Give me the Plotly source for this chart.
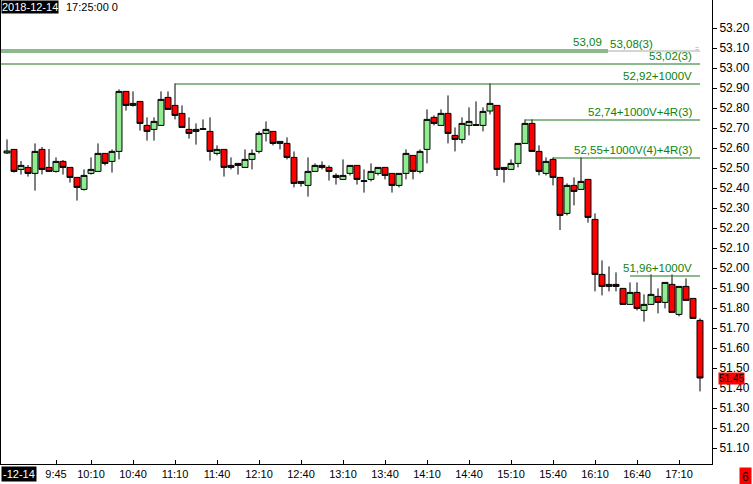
import plotly.graph_objects as go

# ---------------- data ----------------
bar_index = list(range(100))  # 5-minute bars, 09:10 ... 17:25

opens = [52.575, 52.593, 52.493, 52.503, 52.473, 52.593, 52.503, 52.483, 52.533, 52.503,
         52.453, 52.393, 52.473, 52.483, 52.573, 52.533, 52.583, 52.883, 52.813, 52.833,
         52.713, 52.693, 52.713, 52.853, 52.813, 52.773, 52.693, 52.683, 52.693, 52.683,
         52.573, 52.593, 52.503, 52.523, 52.503, 52.543, 52.583, 52.673, 52.683, 52.623,
         52.623, 52.553, 52.423, 52.413, 52.483, 52.513, 52.503, 52.463, 52.443, 52.473,
         52.513, 52.433, 52.443, 52.473, 52.503, 52.473, 52.413, 52.473, 52.563, 52.483,
         52.593, 52.753, 52.713, 52.773, 52.663, 52.643, 52.713, 52.713, 52.713, 52.785,
         52.813, 52.503, 52.493, 52.523, 52.623, 52.723, 52.583, 52.473, 52.543, 52.453,
         52.273, 52.413, 52.393, 52.443, 52.243, 51.968, 51.908, 51.918, 51.898, 51.818,
         51.878, 51.788, 51.818, 51.858, 51.828, 51.918, 51.768, 51.908, 51.848, 51.738]
highs = [52.643, 52.593, 52.535, 52.515, 52.623, 52.605, 52.595, 52.553, 52.540, 52.503,
         52.453, 52.493, 52.553, 52.623, 52.573, 52.593, 52.893, 52.883, 52.883, 52.833,
         52.753, 52.753, 52.883, 52.883, 52.923, 52.813, 52.753, 52.723, 52.743, 52.753,
         52.613, 52.593, 52.553, 52.523, 52.593, 52.593, 52.683, 52.733, 52.683, 52.633,
         52.653, 52.583, 52.433, 52.553, 52.523, 52.533, 52.513, 52.473, 52.543, 52.513,
         52.513, 52.493, 52.523, 52.503, 52.503, 52.473, 52.473, 52.593, 52.563, 52.593,
         52.793, 52.763, 52.793, 52.863, 52.703, 52.753, 52.803, 52.833, 52.803, 52.923,
         52.813, 52.503, 52.543, 52.623, 52.743, 52.743, 52.613, 52.553, 52.553, 52.453,
         52.423, 52.453, 52.553, 52.443, 52.273, 52.038, 52.008, 51.978, 51.898, 51.928,
         51.928, 51.868, 51.968, 51.898, 51.928, 51.968, 51.908, 51.948, 51.848, 51.748]
lows = [52.570, 52.477, 52.467, 52.457, 52.387, 52.468, 52.483, 52.477, 52.467, 52.427,
        52.337, 52.387, 52.467, 52.483, 52.513, 52.477, 52.543, 52.787, 52.807, 52.687,
        52.637, 52.637, 52.713, 52.793, 52.743, 52.703, 52.647, 52.617, 52.690, 52.537,
        52.563, 52.457, 52.493, 52.467, 52.503, 52.493, 52.573, 52.633, 52.613, 52.593,
        52.543, 52.403, 52.407, 52.357, 52.483, 52.493, 52.437, 52.417, 52.443, 52.463,
        52.417, 52.377, 52.433, 52.463, 52.443, 52.377, 52.403, 52.443, 52.443, 52.473,
        52.523, 52.713, 52.713, 52.623, 52.583, 52.623, 52.663, 52.713, 52.683, 52.768,
        52.460, 52.427, 52.493, 52.503, 52.623, 52.583, 52.463, 52.463, 52.413, 52.190,
        52.263, 52.313, 52.393, 52.227, 51.883, 51.863, 51.883, 51.883, 51.818, 51.818,
        51.788, 51.732, 51.818, 51.773, 51.798, 51.778, 51.758, 51.838, 51.748, 51.383]
closes = [52.585, 52.483, 52.513, 52.473, 52.583, 52.493, 52.483, 52.533, 52.503, 52.453,
          52.403, 52.463, 52.493, 52.573, 52.523, 52.583, 52.883, 52.813, 52.823, 52.723,
          52.683, 52.733, 52.843, 52.793, 52.763, 52.703, 52.673, 52.693, 52.696, 52.583,
          52.593, 52.503, 52.513, 52.513, 52.543, 52.573, 52.673, 52.693, 52.623, 52.633,
          52.553, 52.423, 52.433, 52.483, 52.513, 52.503, 52.483, 52.453, 52.463, 52.513,
          52.443, 52.436, 52.483, 52.503, 52.463, 52.413, 52.473, 52.573, 52.483, 52.583,
          52.743, 52.723, 52.773, 52.673, 52.643, 52.723, 52.733, 52.716, 52.783, 52.823,
          52.493, 52.493, 52.523, 52.623, 52.723, 52.583, 52.483, 52.533, 52.453, 52.263,
          52.413, 52.383, 52.433, 52.253, 51.968, 51.908, 51.918, 51.908, 51.818, 51.878,
          51.798, 51.818, 51.868, 51.828, 51.928, 51.778, 51.908, 51.838, 51.748, 51.450]

tick_index = [7, 12, 18, 24, 30, 36, 42, 48, 54, 60, 66, 72, 78, 84, 90, 96]
tick_labels = ["9:45", "10:10", "10:40", "11:10", "11:40", "12:10", "12:40", "13:10",
               "13:40", "14:10", "14:40", "15:10", "15:40", "16:10", "16:40", "17:10"]

y_ticks = [round(51.10 + 0.10 * k, 2) for k in range(22)]

level_values = [53.09, 53.08, 53.02, 52.92, 52.74, 52.55, 51.96]
level_start = [-1, -1, -1, 24, 74, 78, 89]
level_end = [85.86, 85.86, 99, 99, 99, 99, 99]
level_labels = ["53,09", "53,08(3)", "53,02(3)", "52,92+1000V", "52,74+1000V+4R(3)",
                "52,55+1000V(4)+4R(3)", "51,96+1000V"]

last_price = 51.45
header_date = "2018-12-14"
header_rest = "17:25:00 0"
first_label = "-12-14"
counter_text = "6"

# ---------------- figure ----------------
LINE_GREEN = "#187418"
TEXT_GREEN = "#0b840b"
FONT = "Liberation Sans"

fig = go.Figure()

for v, s, e in zip(level_values, level_start, level_end):
    fig.add_trace(go.Scatter(x=[s, e], y=[v, v], mode="lines",
                             line=dict(color=LINE_GREEN, width=1),
                             hoverinfo="skip", showlegend=False))
# faded continuation of the two top levels
fig.add_trace(go.Scatter(x=[85.86, 99], y=[53.085, 53.085], mode="lines",
                         line=dict(color="#d4d4d4", width=2),
                         hoverinfo="skip", showlegend=False))

fig.add_trace(go.Candlestick(
    x=bar_index, open=opens, high=highs, low=lows, close=closes,
    increasing=dict(line=dict(color="black", width=1), fillcolor="#90EE90"),
    decreasing=dict(line=dict(color="black", width=1), fillcolor="#FF0000"),
    whiskerwidth=0, showlegend=False))

annotations = []
# level labels
label_x = [85.3, 85.86, 98.15, 98.15, 98.15, 98.15, 98.15]
label_anchor = ["right", "left", "right", "right", "right", "right", "right"]
for v, t, lx, xa in zip(level_values, level_labels, label_x, label_anchor):
    annotations.append(dict(x=lx, y=v, xref="x", yref="y", text=t, showarrow=False,
                            xanchor=xa, yanchor="bottom", yshift=0,
                            font=dict(family=FONT, size=11.5, color=TEXT_GREEN)))
annotations.append(dict(x=98.6, y=53.10, xref="x", yref="y", text="=", showarrow=False,
                        xanchor="center", yanchor="middle",
                        font=dict(family=FONT, size=7, color="#a0a0a0")))
# header
annotations.append(dict(x=0, y=1, xref="paper", yref="paper", text=header_date,
                        showarrow=False, xanchor="left", yanchor="top",
                        bgcolor="black", borderpad=0,
                        font=dict(family=FONT, size=11, color="white")))
annotations.append(dict(x=64 / 711, y=1, xref="paper", yref="paper", text=header_rest,
                        showarrow=False, xanchor="left", yanchor="top", borderpad=0,
                        font=dict(family=FONT, size=11, color="black")))
# first (clipped) date label on x axis
annotations.append(dict(x=0, y=0, xref="paper", yref="paper", text=first_label,
                        showarrow=False, xanchor="left", yanchor="top", yshift=-2,
                        bgcolor="black", borderpad=1,
                        font=dict(family=FONT, size=11, color="white")))
# last price box
annotations.append(dict(x=717 / 711, y=last_price, xref="paper", yref="y",
                        text=f"{last_price:.2f}", showarrow=False,
                        xanchor="left", yanchor="middle", bgcolor="#FF0000", borderpad=0,
                        font=dict(family=FONT, size=10, color="black")))
# counter box
annotations.append(dict(x=744 / 711, y=0, xref="paper", yref="paper", text=counter_text,
                        showarrow=False, xanchor="center", yanchor="top", yshift=-3,
                        bgcolor="#FF0000", borderpad=2,
                        font=dict(family=FONT, size=12, color="black")))

fig.update_layout(
    width=753, height=484,
    margin=dict(l=1, r=41, t=0, b=20),
    paper_bgcolor="white", plot_bgcolor="white",
    showlegend=False,
    boxgap=0.15, boxgroupgap=0,
    annotations=annotations,
    font=dict(family=FONT, size=11, color="black"),
    xaxis=dict(range=[-6 / 7, -6 / 7 + 711 / 7], rangeslider=dict(visible=False),
               tickmode="array", tickvals=tick_index, ticktext=tick_labels,
               ticks="inside", ticklen=4, tickcolor="black",
               showline=True, linecolor="black", linewidth=1,
               showgrid=False, zeroline=False,
               tickfont=dict(family=FONT, size=11, color="black")),
    yaxis=dict(range=[51.02, 53.34], side="right",
               tickmode="array", tickvals=y_ticks,
               ticktext=[f"{v:.2f}" for v in y_ticks],
               ticks="outside", ticklen=4, tickcolor="black",
               showline=True, linecolor="black", linewidth=1, mirror=True,
               showgrid=False, zeroline=False,
               tickfont=dict(family=FONT, size=12, color="black")),
)

fig.write_html("out.html", config={"displayModeBar": False},
               post_script="document.body.style.margin='0';document.body.style.overflow='hidden';")
